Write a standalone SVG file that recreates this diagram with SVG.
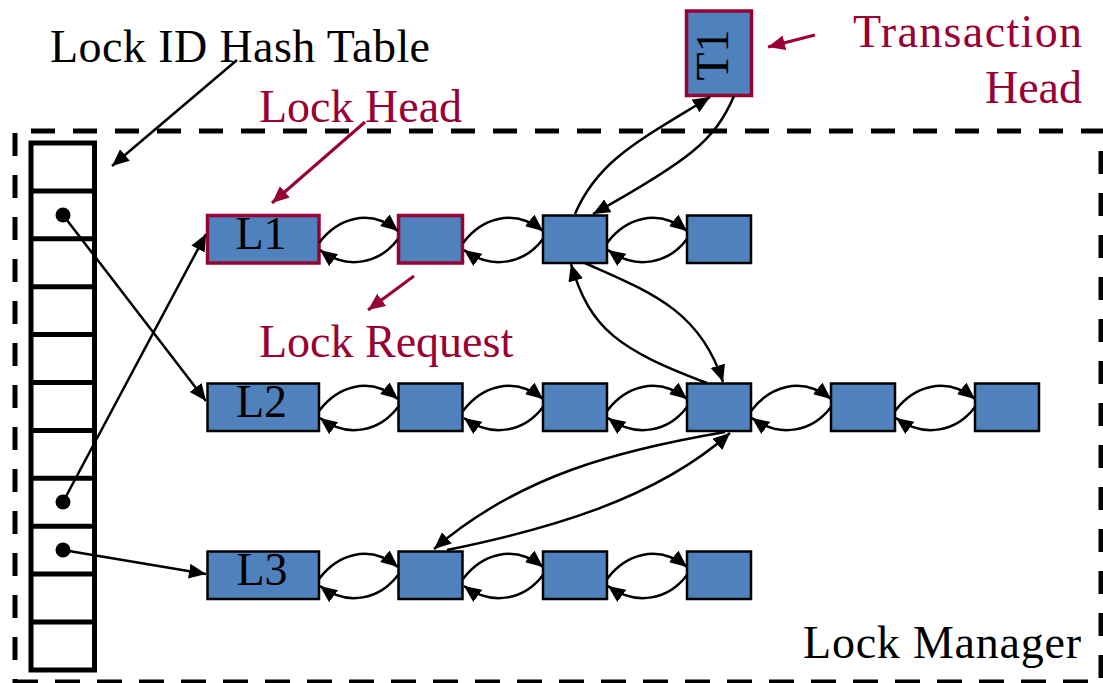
<svg xmlns="http://www.w3.org/2000/svg" width="1103" height="683" viewBox="0 0 1103 683">
  <style>
    text { font-family: 'Liberation Serif', serif; font-size: 46px; }
    .blk { fill: #000; }
    .red { fill: #990033; }
    .box { fill: #4F81BD; stroke: #000; stroke-width: 2.5; }
    .hbox { fill: #4F81BD; stroke: #990033; stroke-width: 3.5; }
    .c { fill: none; stroke: #000; stroke-width: 2.5; marker-end: url(#ah); }
    .cr { fill: none; stroke: #990033; stroke-width: 3; marker-end: url(#ahr); }
    .frame { fill: none; stroke: #000; stroke-width: 5; }
    .grid { fill: none; stroke: #000; stroke-width: 5; }
  </style>
  <defs>
    <marker id="ah" markerUnits="userSpaceOnUse" markerWidth="18" markerHeight="16" refX="17" refY="7.5" orient="auto">
      <path d="M0,0 L17,7.5 L0,15 z" fill="#000"/>
    </marker>
    <marker id="ahr" markerUnits="userSpaceOnUse" markerWidth="18" markerHeight="16" refX="17" refY="7.5" orient="auto">
      <path d="M0,0 L17,7.5 L0,15 z" fill="#990033"/>
    </marker>
  </defs>
  <rect width="1103" height="683" fill="#fff"/>

  <g id="lock-manager-frame">
    <path class="frame" d="M31,131 H1103" stroke-dasharray="24 18"/>
    <path class="frame" d="M15,133 V683" stroke-dasharray="23 19"/>
    <path class="frame" d="M1101,151 V683" stroke-dasharray="23 19"/>
    <path class="frame" d="M13,682 H1103" stroke-dasharray="25 17"/>
    <text class="blk" font-family="Liberation Serif, serif" x="803" y="658" textLength="278">Lock Manager</text>
  </g>

  <g id="hash-table">
    <rect class="grid" x="31" y="143" width="63.5" height="527"/>
    <path class="grid" d="M31,191 H94.5 M31,238.8 H94.5 M31,286.7 H94.5 M31,334.6 H94.5 M31,382.5 H94.5 M31,430.4 H94.5 M31,478.3 H94.5 M31,526.2 H94.5 M31,574.1 H94.5 M31,622 H94.5"/>
    <circle cx="63" cy="215" r="7.5" fill="#000"/>
    <circle cx="63" cy="502" r="7.5" fill="#000"/>
    <circle cx="63" cy="550" r="7.5" fill="#000"/>
  </g>

  <g id="labels">
    <text class="blk" font-family="Liberation Serif, serif" x="50" y="62" textLength="380">Lock ID Hash Table</text>
    <text class="red" font-family="Liberation Serif, serif" x="259" y="122">Lock Head</text>
    <text class="red" font-family="Liberation Serif, serif" x="259" y="357">Lock Request</text>
    <text class="red" font-family="Liberation Serif, serif" x="853" y="47" textLength="229">Transaction</text>
    <text class="red" font-family="Liberation Serif, serif" x="1082" y="103" text-anchor="end">Head</text>
  </g>

  <g id="T1">
    <rect class="hbox" x="686.5" y="11" width="65" height="84.5"/>
    <text class="blk" font-family="Liberation Serif, serif" transform="translate(728,55) rotate(-90)" text-anchor="middle">T1</text>
  </g>

  <g id="L1">
    <rect class="hbox" x="207.5" y="215.5" width="111.5" height="47.5"/>
    <text class="blk" font-family="Liberation Serif, serif" x="261" y="249" text-anchor="middle">L1</text>
  </g>
  <g id="r1n2"><rect class="hbox" x="398.5" y="215.5" width="64" height="47.5"/></g>
  <g id="r1n3"><rect class="box" x="543" y="215.5" width="64" height="47.5"/></g>
  <g id="r1n4"><rect class="box" x="687" y="215.5" width="64" height="47.5"/></g>

  <g id="L2">
    <rect class="box" x="207.5" y="383.5" width="111.5" height="47.5"/>
    <text class="blk" font-family="Liberation Serif, serif" x="261.5" y="417" text-anchor="middle">L2</text>
  </g>
  <g id="r2n2"><rect class="box" x="398.5" y="383.5" width="64" height="47.5"/></g>
  <g id="r2n3"><rect class="box" x="543" y="383.5" width="64" height="47.5"/></g>
  <g id="r2n4"><rect class="box" x="687" y="383.5" width="64" height="47.5"/></g>
  <g id="r2n5"><rect class="box" x="831" y="383.5" width="64" height="47.5"/></g>
  <g id="r2n6"><rect class="box" x="975" y="383.5" width="64" height="47.5"/></g>

  <g id="L3">
    <rect class="box" x="207.5" y="551.5" width="111.5" height="47.5"/>
    <text class="blk" font-family="Liberation Serif, serif" x="262" y="585" text-anchor="middle">L3</text>
  </g>
  <g id="r3n2"><rect class="box" x="398.5" y="551.5" width="64" height="47.5"/></g>
  <g id="r3n3"><rect class="box" x="543" y="551.5" width="64" height="47.5"/></g>
  <g id="r3n4"><rect class="box" x="687" y="551.5" width="64" height="47.5"/></g>

  <g id="connectors">
    <path class="c" d="M237,60 L112,166"/>
    <path class="cr" d="M365,122 L272,203"/>
    <path class="cr" d="M414,276 L368,310"/>
    <path class="cr" d="M815,35 L768,47"/>

    <path class="c" d="M63,215 L206,401"/>
    <path class="c" d="M63,502 L206,234"/>
    <path class="c" d="M63,550 L206,574"/>

    <path class="c" transform="translate(319,215)" d="M0,28 C18,4 50,-8 79,16"/>
    <path class="c" transform="translate(319,215)" d="M79,24 C61,48 29,56 1,35"/>
    <path class="c" transform="translate(463,215)" d="M0,28 C18,4 50,-8 80,16"/>
    <path class="c" transform="translate(463,215)" d="M80,24 C62,48 30,56 1,35"/>
    <path class="c" transform="translate(607,215)" d="M0,28 C18,4 50,-8 80,16"/>
    <path class="c" transform="translate(607,215)" d="M80,24 C62,48 30,56 1,35"/>

    <path class="c" transform="translate(319,383)" d="M0,28 C18,4 50,-8 79,16"/>
    <path class="c" transform="translate(319,383)" d="M79,24 C61,48 29,56 1,35"/>
    <path class="c" transform="translate(463,383)" d="M0,28 C18,4 50,-8 80,16"/>
    <path class="c" transform="translate(463,383)" d="M80,24 C62,48 30,56 1,35"/>
    <path class="c" transform="translate(607,383)" d="M0,28 C18,4 50,-8 80,16"/>
    <path class="c" transform="translate(607,383)" d="M80,24 C62,48 30,56 1,35"/>
    <path class="c" transform="translate(751,383)" d="M0,28 C18,4 50,-8 80,16"/>
    <path class="c" transform="translate(751,383)" d="M80,24 C62,48 30,56 1,35"/>
    <path class="c" transform="translate(895,383)" d="M0,28 C18,4 50,-8 80,16"/>
    <path class="c" transform="translate(895,383)" d="M80,24 C62,48 30,56 1,35"/>

    <path class="c" transform="translate(319,551)" d="M0,28 C18,4 50,-8 79,16"/>
    <path class="c" transform="translate(319,551)" d="M79,24 C61,48 29,56 1,35"/>
    <path class="c" transform="translate(463,551)" d="M0,28 C18,4 50,-8 80,16"/>
    <path class="c" transform="translate(463,551)" d="M80,24 C62,48 30,56 1,35"/>
    <path class="c" transform="translate(607,551)" d="M0,28 C18,4 50,-8 80,16"/>
    <path class="c" transform="translate(607,551)" d="M80,24 C62,48 30,56 1,35"/>

    <path class="c" d="M575,214 C598,160 640,140 710,97"/>
    <path class="c" d="M734,96 C715,140 690,160 593,214"/>
    <path class="c" d="M707,383 C620,350 590,330 571,264"/>
    <path class="c" d="M585,263 C650,292 700,310 723,382"/>
    <path class="c" d="M725,432 C620,450 520,475 434,549"/>
    <path class="c" d="M447,550 C545,530 655,500 730,433"/>
  </g>
</svg>
